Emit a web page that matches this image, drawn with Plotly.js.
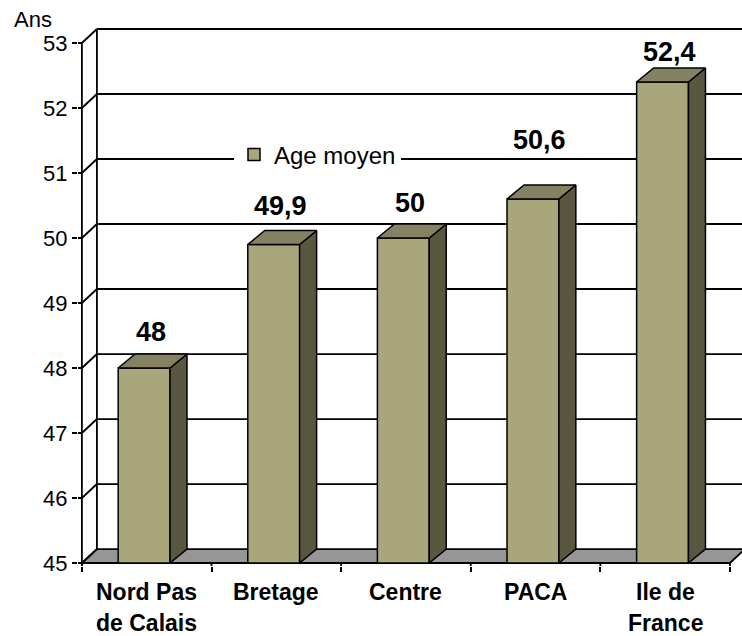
<!DOCTYPE html>
<html>
<head>
<meta charset="utf-8">
<script src="https://cdn.plot.ly/plotly-3.0.1.min.js"></script>
<style>
  html, body { margin: 0; padding: 0; background: #fff; }
  #chart { width: 742px; height: 636px; }
</style>
</head>
<body>
<div id="chart"></div>
<script>
// ---- data ----
const categories = ["Nord Pas<br>de Calais", "Bretage", "Centre", "PACA", "Ile de<br>France"];
const ageMoyen = [48, 49.9, 50, 50.6, 52.4];
const valueLabels = ["48", "49,9", "50", "50,6", "52,4"];
const yTickVals = [45, 46, 47, 48, 49, 50, 51, 52, 53];
const seriesName = "Age moyen";
const yUnitLabel = "Ans";

// ---- style / geometry constants ----
const FONT = "Arial, 'Liberation Sans', sans-serif";
const FRONT = "#AAA67C", SIDE = "#59573F", TOP = "#858263", FLOOR = "#969696";
const BASE = 45, TOPV = 53;
const X0 = -0.5, X1 = 4.5;
const WDX = 0.116, WDY = 0.215;   // wall depth offset (data units)
const BDX = 0.131, BDY = 0.215;   // bar depth offset (data units)
const BAR_W = 0.4, BAR_OFF = -0.22;
const LABEL_SHIFT = [36, 39, 35, 59, 30];
const LABEL_DX = 0.03;

const idx = categories.map((_, i) => i);

const traces = [];
// front faces
traces.push({
  type: "bar",
  name: seriesName,
  x: idx,
  y: ageMoyen.map(v => v - BASE),
  base: BASE,
  width: BAR_W,
  offset: BAR_OFF,
  marker: { color: FRONT, line: { color: "#000", width: 1.5 } },
  hoverinfo: "skip",
  showlegend: true
});
// side and top faces
idx.forEach(i => {
  const v = ageMoyen[i];
  const xa = i + BAR_OFF, xb = i + BAR_OFF + BAR_W;
  traces.push({
    type: "scatter", mode: "lines", fill: "toself", fillcolor: SIDE,
    x: [xb, xb, xb + BDX, xb + BDX, xb],
    y: [BASE, v, v + BDY, BASE + BDY, BASE],
    line: { color: "#000", width: 1.5 }, hoverinfo: "skip", showlegend: false
  });
  traces.push({
    type: "scatter", mode: "lines", fill: "toself", fillcolor: TOP,
    x: [xa, xb, xb + BDX, xa + BDX, xa],
    y: [v, v, v + BDY, v + BDY, v],
    line: { color: "#000", width: 1.5 }, hoverinfo: "skip", showlegend: false
  });
});

// ---- walls & floor shapes ----
const LW = 1.8;
const shapes = [];
shapes.push({
  type: "path", xref: "x", yref: "y", layer: "below",
  path: `M ${X0},${BASE} L ${X1},${BASE} L ${X1 + WDX},${BASE + WDY} L ${X0 + WDX},${BASE + WDY} Z`,
  fillcolor: FLOOR, line: { color: "#000", width: LW }
});
yTickVals.forEach(v => {
  if (v > BASE) {
    shapes.push({ type: "line", xref: "x", yref: "y", layer: "below",
      x0: X0 + WDX, x1: 4.8, y0: v + WDY, y1: v + WDY, line: { color: "#000", width: LW } });
  }
  shapes.push({ type: "path", xref: "x", yref: "y", layer: "below",
    path: `M ${X0 - 0.04},${v} L ${X0},${v} L ${X0 + WDX},${v + WDY}`,
    line: { color: "#000", width: LW } });
});
shapes.push({ type: "line", xref: "x", yref: "y", layer: "below",
  x0: X0 + WDX, x1: X0 + WDX, y0: BASE + WDY, y1: TOPV + WDY, line: { color: "#000", width: LW } });
shapes.push({ type: "line", xref: "x", yref: "y", layer: "above",
  x0: X0, x1: X0, y0: BASE - 0.06, y1: TOPV, line: { color: "#000", width: LW } });
const bounds = [-0.5, 0.5, 1.5, 2.5, 3.5, 4.5];
bounds.forEach(b => {
  shapes.push({ type: "line", xref: "x", yref: "y", layer: "above",
    x0: b, x1: b, y0: BASE, y1: BASE - 0.06, line: { color: "#000", width: LW } });
});

// ---- annotations ----
const annotations = [];
idx.forEach(i => {
  annotations.push({
    xref: "x", yref: "y", x: i + LABEL_DX, y: ageMoyen[i],
    text: "<b>" + valueLabels[i] + "</b>", showarrow: false,
    xanchor: "center", yanchor: "middle", yshift: LABEL_SHIFT[i],
    font: { family: FONT, size: 27, color: "#000" }
  });
  const lines = categories[i].split("<br>");
  lines.forEach((t, k) => {
    annotations.push({
      xref: "x", yref: "y", x: i, y: BASE,
      text: "<b>" + t + "</b>", showarrow: false,
      xanchor: "center", yanchor: "middle", yshift: -29 - 31 * k,
      font: { family: FONT, size: 23, color: "#000" }
    });
  });
});
annotations.push({
  xref: "paper", yref: "paper", x: -0.1, y: 1.013,
  xanchor: "left", yanchor: "middle", text: yUnitLabel, showarrow: false,
  font: { family: FONT, size: 22, color: "#000" }
});

const layout = {
  width: 742, height: 636,
  margin: { l: 78, r: 0, t: 27, b: 70, pad: 0, autoexpand: false },
  paper_bgcolor: "#fff", plot_bgcolor: "#fff",
  font: { family: FONT, color: "#000" },
  showlegend: true,
  legend: {
    xref: "paper", yref: "paper",
    x: (234 - 78) / 664, y: (566 - 155) / 539, xanchor: "left", yanchor: "middle",
    bgcolor: "#fff", borderwidth: 0,
    font: { family: FONT, size: 24, color: "#000" }
  },
  xaxis: {
    range: [-0.53, 4.593], tickvals: bounds, ticktext: bounds.map(() => ""),
    ticks: "outside", ticklen: 5, tickwidth: 2, tickcolor: "#000",
    showgrid: false, zeroline: false, showline: false, fixedrange: true
  },
  yaxis: {
    range: [44.954, 53.246], tickvals: yTickVals, ticktext: yTickVals.map(String),
    ticks: "outside", ticklen: 5, tickwidth: 2, tickcolor: "#000",
    tickfont: { family: FONT, size: 22, color: "#000" },
    showgrid: false, zeroline: false, showline: false, fixedrange: true
  },
  bargap: 0,
  shapes: shapes,
  annotations: annotations
};

Plotly.newPlot("chart", traces, layout, { displayModeBar: false, staticPlot: true });
</script>
</body>
</html>
